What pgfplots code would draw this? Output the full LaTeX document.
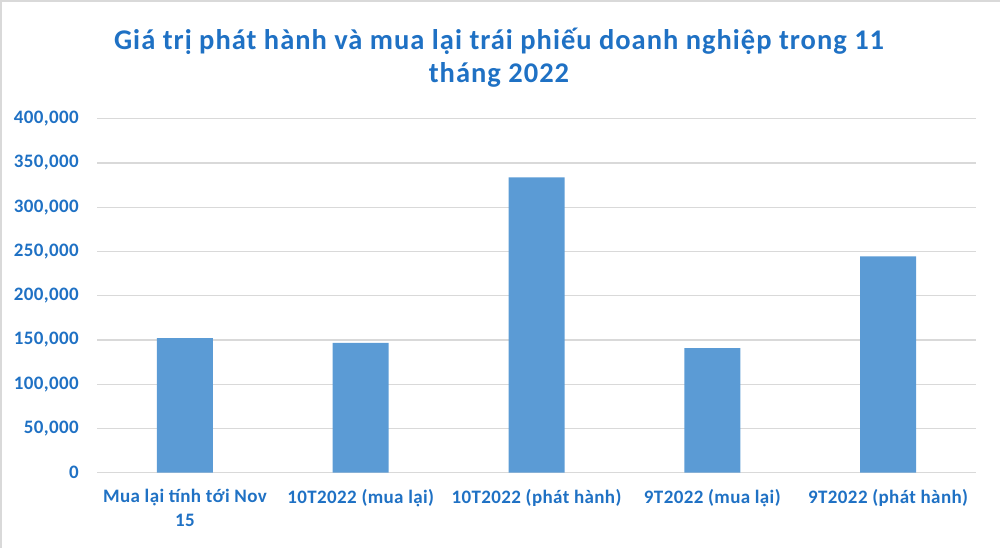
\documentclass[border=0pt]{standalone}
\usepackage{fontspec}
\setmainfont{Carlito}
\usepackage{pgfplots}
\pgfplotsset{compat=1.18}
\definecolor{tblue}{RGB}{31,113,196}
\definecolor{barblue}{RGB}{91,155,213}
\definecolor{gridgray}{RGB}{217,217,217}
\begin{document}
\begin{tikzpicture}[x=1pt,y=1pt]
\path[use as bounding box] (0,0) rectangle (1000,548);
\draw[gridgray, line width=2pt] (1,0) -- (1,547) -- (1000,547);
\node[text=tblue, font=\addfontfeatures{LetterSpace=3.5}\bfseries\fontsize{28.5}{33}\selectfont, align=center] at (499,490.5) {Giá trị phát hành và mua  lại trái phiếu doanh nghiệp trong 11\\tháng 2022};
\begin{axis}[
  at={(97pt,75.3pt)}, anchor=south west,
  scale only axis, width=879pt, height=354pt,
  ymin=0, ymax=400000, xmin=-0.5, xmax=4.5,
  ytick={0,50000,...,400000},
  xtick={0,1,2,3,4},
  xticklabels={{Mua  lại tính  tới Nov\\15},{10T2022 (mua lại)},{10T2022 (phát hành)},{9T2022 (mua lại)},{9T2022 (phát hành)}},
  scaled y ticks=false,
  /pgf/number format/assume math mode=true,
  /pgf/number format/fixed,
  /pgf/number format/1000 sep={,},
  ymajorgrids,
  grid style={gridgray, line width=1.3pt},
  axis x line*=bottom, axis y line*=left,
  y axis line style={draw=none},
  x axis line style={gridgray, line width=1.3pt},
  major tick length=0pt,
  tick label style={text=tblue, font=\addfontfeatures{LetterSpace=2}\bfseries\fontsize{19}{24}\selectfont},
  xticklabel style={align=center, inner sep=0pt, yshift=-16.5pt},
  yticklabel style={inner sep=0pt, xshift=-18pt},
]
\addplot[ybar, bar width=56pt, fill=barblue, draw=none] coordinates {(0,152000) (1,146600) (2,333600) (3,140700) (4,244500)};
\end{axis}
\end{tikzpicture}
\end{document}
